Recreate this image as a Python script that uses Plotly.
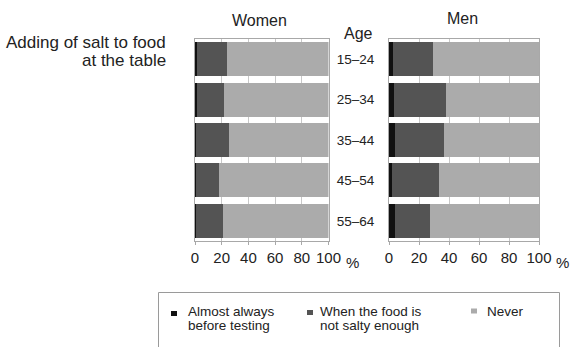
import plotly.graph_objects as go

ages = ["15–24", "25–34", "35–44", "45–54", "55–64"]
x_ticks = [0, 20, 40, 60, 80, 100]
x_tick_labels = ["0", "20", "40", "60", "80", "100"]

women_almost = [1.7, 1.3, 0.6, 0.5, 0.6]
women_when = [22.0, 20.7, 25.1, 17.7, 20.1]
women_never = [76.3, 78.0, 74.3, 81.8, 79.3]

men_almost = [2.9, 3.3, 3.8, 2.2, 4.0]
men_when = [26.7, 34.5, 33.1, 31.3, 23.3]
men_never = [70.4, 62.2, 63.1, 66.5, 72.7]

series_names = ["Almost always before testing", "When the food is not salty enough", "Never"]
colors = ["#111111", "#545454", "#ababab"]

W, H = 573, 347
FONT = "Liberation Sans, Arial, sans-serif"

def px(x):
    return x / W

def py(y):
    return 1 - y / H

fig = go.Figure()
for vals, name, col in zip([women_almost, women_when, women_never], series_names, colors):
    fig.add_trace(go.Bar(y=ages, x=vals, orientation="h", name=name, marker=dict(color=col, line=dict(width=0)),
                         xaxis="x", yaxis="y", showlegend=False))
for vals, name, col in zip([men_almost, men_when, men_never], series_names, colors):
    fig.add_trace(go.Bar(y=ages, x=vals, orientation="h", name=name, marker=dict(color=col, line=dict(width=0)),
                         xaxis="x2", yaxis="y2", showlegend=False))

ydom = [py(241), py(39)]
xcommon = dict(range=[0, 100], tickvals=x_ticks, ticktext=x_tick_labels, showgrid=True, gridcolor="#c8c8c8",
               gridwidth=1, showline=True, linecolor="#a8a8a8", linewidth=1, mirror=True, ticks="outside",
               ticklen=3, tickcolor="#a8a8a8", tickfont=dict(family=FONT, size=15, color="#222"),
               zeroline=False, fixedrange=True, tickangle=0, automargin=False)
ycommon = dict(categoryorder="array", categoryarray=ages, autorange="reversed", domain=ydom,
               showline=True, linecolor="#a8a8a8", linewidth=1, mirror=True, showgrid=False, ticks="",
               zeroline=False, automargin=False, fixedrange=True)

fig.update_layout(
    width=W, height=H, margin=dict(l=0, r=0, t=0, b=0, autoexpand=False),
    paper_bgcolor="white", plot_bgcolor="white",
    barmode="stack", bargap=0.16,
    font=dict(family=FONT, color="#222"),
    xaxis=dict(domain=[px(195), px(328.5)], anchor="y", **xcommon),
    xaxis2=dict(domain=[px(389), px(539)], anchor="y2", **xcommon),
    yaxis=dict(anchor="x", showticklabels=False, **ycommon),
    yaxis2=dict(anchor="x2", showticklabels=True, tickfont=dict(family=FONT, size=13.5, color="#222"),
                ticklabelstandoff=11, **ycommon),
)

ann = []
def text(x, y, s, size, xanchor="center", color="#222"):
    ann.append(dict(x=px(x), y=py(y), xref="paper", yref="paper", text=s, showarrow=False,
                    xanchor=xanchor, yanchor="middle", font=dict(family=FONT, size=size, color=color)))

text(259, 20, "Women", 16)
text(463, 19, "Men", 16)
text(358, 33, "Age", 16)
text(168, 43, "Adding of salt to food", 17, "right")
text(168, 60, "at the table", 17, "right")
text(352, 262, "%", 15)
text(562, 262, "%", 15)

# legend
text(186, 311, "Almost always", 13.5, "left")
text(186, 325.5, "before testing", 13.5, "left")
text(318, 311, "When the food is", 13.5, "left")
text(318, 325.5, "not salty enough", 13.5, "left")
text(485, 311, "Never", 13.5, "left")
fig.update_layout(annotations=ann)

shapes = [dict(type="rect", xref="paper", yref="paper", x0=px(158.5), x1=px(559.5), y0=py(380), y1=py(292.5),
               line=dict(color="#9a9a9a", width=1), fillcolor="rgba(0,0,0,0)")]
for (cx, cy), col in zip([(174, 313.5), (310, 312.5), (474, 311)], colors):
    shapes.append(dict(type="rect", xref="paper", yref="paper", x0=px(cx - 3), x1=px(cx + 3),
                       y0=py(cy + 2.5), y1=py(cy - 2.5), line=dict(width=0), fillcolor=col))
fig.update_layout(shapes=shapes)

fig.write_html("out.html", config={"displayModeBar": False},
               post_script="document.body.style.margin='0';document.body.style.padding='0';")
